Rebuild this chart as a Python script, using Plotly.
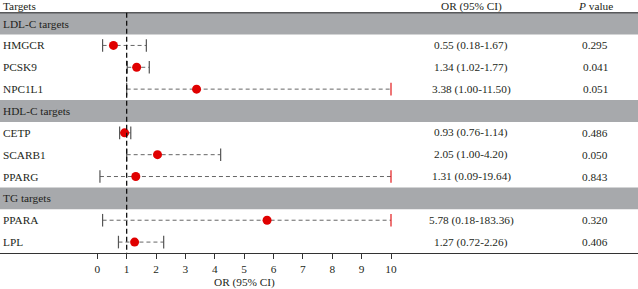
import plotly.graph_objects as go

# ---- data ----
groups = ["LDL-C targets", "HDL-C targets", "TG targets"]
group_targets = [["HMGCR", "PCSK9", "NPC1L1"],
                 ["CETP", "SCARB1", "PPARG"],
                 ["PPARA", "LPL"]]
or_vals = [0.55, 1.34, 3.38, 0.93, 2.05, 1.31, 5.78, 1.27]
ci_lo = [0.18, 1.02, 1.00, 0.76, 1.00, 0.09, 0.18, 0.72]
ci_hi = [1.67, 1.77, 11.50, 1.14, 4.20, 19.64, 183.36, 2.26]
p_vals = [0.295, 0.041, 0.051, 0.486, 0.050, 0.843, 0.320, 0.406]
x_ticks = [0, 1, 2, 3, 4, 5, 6, 7, 8, 9, 10]
x_max = 10

W, H = 638, 289
FONT = "Liberation Serif"
TXT = "#231f20"
BAND = "#a7a9ac"
FS = 11.3

# layout of rows
rows = []  # (kind, label, idx)
k = 0
for g, ts in zip(groups, group_targets):
    rows.append(("band", g, None))
    for t in ts:
        rows.append(("target", t, k))
        k += 1

px0 = 97.3     # pixel of x=0
pxs = 29.37    # px per unit
x_range = [-px0 / pxs, (W - px0) / pxs]

shapes = []
annotations = []
fig = go.Figure()

n_rows = len(rows)
for i, (kind, label, idx) in enumerate(rows):
    if kind == "band":
        shapes.append(dict(type="rect", xref="paper", yref="y", x0=0, x1=1,
                           y0=i - 0.5, y1=i + 0.5, fillcolor=BAND,
                           line=dict(width=0), layer="below"))
    annotations.append(dict(x=1 / W, xref="paper", y=i, yref="y", text=label,
                            showarrow=False, xanchor="left", yanchor="middle",
                            font=dict(family=FONT, size=FS, color=TXT)))
    if kind == "target":
        o, lo, hi, p = or_vals[idx], ci_lo[idx], ci_hi[idx], p_vals[idx]
        annotations.append(dict(x=471 / W, xref="paper", y=i, yref="y",
                                text=f"{o:.2f} ({lo:.2f}-{hi:.2f})",
                                showarrow=False, xanchor="center", yanchor="middle",
                                font=dict(family=FONT, size=FS, color=TXT)))
        annotations.append(dict(x=595 / W, xref="paper", y=i, yref="y",
                                text=f"{p:.3f}",
                                showarrow=False, xanchor="center", yanchor="middle",
                                font=dict(family=FONT, size=FS, color=TXT)))
        hi_c = min(hi, x_max)
        fig.add_trace(go.Scatter(x=[lo, hi_c], y=[i, i], mode="lines",
                                 line=dict(color="#666666", width=1, dash="4px,3px"),
                                 hoverinfo="skip", showlegend=False))
        fig.add_trace(go.Scatter(x=[lo], y=[i], mode="markers",
                                 marker=dict(symbol="line-ns", size=9,
                                             line=dict(color="#555555", width=1.2)),
                                 hoverinfo="skip", showlegend=False))
        fig.add_trace(go.Scatter(x=[hi_c], y=[i], mode="markers",
                                 marker=dict(symbol="line-ns", size=9,
                                             line=dict(color="#e31a1c" if hi > x_max else "#555555",
                                                       width=1.2)),
                                 hoverinfo="skip", showlegend=False))
        fig.add_trace(go.Scatter(x=[o], y=[i], mode="markers",
                                 marker=dict(symbol="circle", size=9, color="#e00000"),
                                 hoverinfo="skip", showlegend=False))

# header
hdr_y = -0.80
for xpx, txt in [(1, "Targets"), (471, "OR (95% CI)"), (595, "<i>P</i> value")]:
    annotations.append(dict(x=xpx / W, xref="paper", y=hdr_y, yref="y", text=txt,
                            showarrow=False, xanchor="left" if xpx == 1 else "center",
                            yanchor="middle",
                            font=dict(family=FONT, size=FS, color=TXT)))

# top border
shapes.append(dict(type="line", xref="paper", yref="y", x0=0, x1=1, y0=-0.5, y1=-0.5,
                   line=dict(color="#58595b", width=1.5)))
# reference line at OR = 1
shapes.append(dict(type="line", xref="x", yref="y", x0=1, x1=1, y0=-0.5, y1=n_rows - 0.5,
                   line=dict(color="#111111", width=1.3, dash="5px,3px")))

plot_h = 253
annotations.append(dict(x=5, xref="x", y=(plot_h - 282) / plot_h, yref="paper",
                        text="OR (95% CI)", showarrow=False, xanchor="center",
                        yanchor="middle", font=dict(family=FONT, size=FS, color=TXT)))

fig.update_layout(
    width=W, height=H,
    margin=dict(l=0, r=0, t=0, b=H - plot_h, pad=0),
    plot_bgcolor="white", paper_bgcolor="white",
    shapes=shapes, annotations=annotations,
    xaxis=dict(range=x_range, tickvals=x_ticks, ticktext=[str(v) for v in x_ticks],
               showgrid=False, zeroline=False, showline=True, linecolor="#333333",
               linewidth=1.3, ticks="outside", ticklen=5, tickcolor="#333333",
               tickwidth=1, tickfont=dict(family=FONT, size=FS, color=TXT),
               fixedrange=True),
    yaxis=dict(range=[n_rows - 0.5, -1.08], showgrid=False, zeroline=False,
               showticklabels=False, showline=False, fixedrange=True),
    showlegend=False,
)

fig.write_html("out.html", config={"displayModeBar": False, "staticPlot": True},
               post_script="document.body.style.margin='0';document.body.style.overflow='hidden';")
